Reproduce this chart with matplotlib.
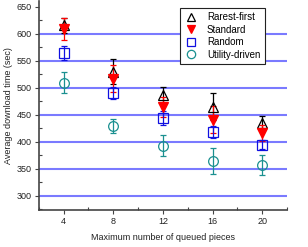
import matplotlib; matplotlib.use("Agg")
import matplotlib.pyplot as plt
from matplotlib.lines import Line2D
from matplotlib.ticker import MultipleLocator

# queue sizes on the x axis
queued = [4, 8, 12, 16, 20]
# average download time (sec) and error half-widths per policy
rarest = [616, 530, 486, 465, 435]
rarest_err = [14, 23, 16, 25, 13]
standard = [609, 517, 465, 441, 417]
standard_err = [20, 25, 18, 25, 15]
rand = [564, 490, 444, 418, 395]
rand_err = [13, 11, 13, 11, 9]
utility = [510, 430, 393, 365, 357]
utility_err = [19, 13, 20, 24, 18]
grid_levels = [300, 350, 400, 450, 500, 550, 600]

plt.rcParams["font.family"] = ["Liberation Sans", "DejaVu Sans"]
fig = plt.figure(figsize=(3.08, 2.47), dpi=100)
ax = fig.add_axes([0.126, 0.150, 0.806, 0.846])

ax.hlines(grid_levels, 2, 22, colors="#7a7aff", lw=1.5, zorder=1)

series = [
    (rarest, rarest_err, "^", "black", "none", "Rarest-first"),
    (standard, standard_err, "v", "red", "red", "Standard"),
    (rand, rand_err, "s", "#1010e0", "none", "Random"),
    (utility, utility_err, "o", "#1a9090", "none", "Utility-driven"),
]
handles = []
for vals, err, mk, col, fc, name in series:
    ax.errorbar(queued, vals, yerr=err, fmt=mk, color=col, mfc=fc, capsize=2,
                elinewidth=0.9, capthick=0.9, ms=7, mew=0.9, ls="none", zorder=3)
    handles.append(Line2D([], [], marker=mk, color=col, mfc=fc, ms=6, mew=0.9, ls="none", label=name))

ax.set_xlim(2, 22)
ax.set_ylim(274, 661)
ax.set_xticks(queued)
ax.xaxis.set_minor_locator(MultipleLocator(2))
ax.yaxis.set_major_locator(MultipleLocator(50))
ax.yaxis.set_minor_locator(MultipleLocator(25))
for s in ("top", "right"):
    ax.spines[s].set_visible(False)
for s in ("left", "bottom"):
    ax.spines[s].set_color("#444444")
    ax.spines[s].set_linewidth(1.2)
ax.tick_params(which="major", direction="out", length=3, width=0.8, color="#444444",
               labelsize=6.5, labelcolor="#222222", pad=2)
ax.tick_params(which="minor", direction="in", length=2, width=0.8, color="#444444")
ax.set_xlabel("Maximum number of queued pieces", fontsize=6.5, color="#222222", labelpad=5)
ax.set_ylabel("Average download time (sec)", fontsize=6.5, color="#222222", labelpad=3)

leg = ax.legend(handles=handles, loc="upper left", bbox_to_anchor=(0.569, 0.966), fontsize=7,
                frameon=True, fancybox=False, edgecolor="#222222", framealpha=1, borderpad=0.45,
                handletextpad=1.0, labelspacing=0.25, handlelength=1.3, borderaxespad=0)
leg.get_frame().set_linewidth(0.8)
leg.set_zorder(5)

plt.savefig("out.png", dpi=100)
plt.close()
